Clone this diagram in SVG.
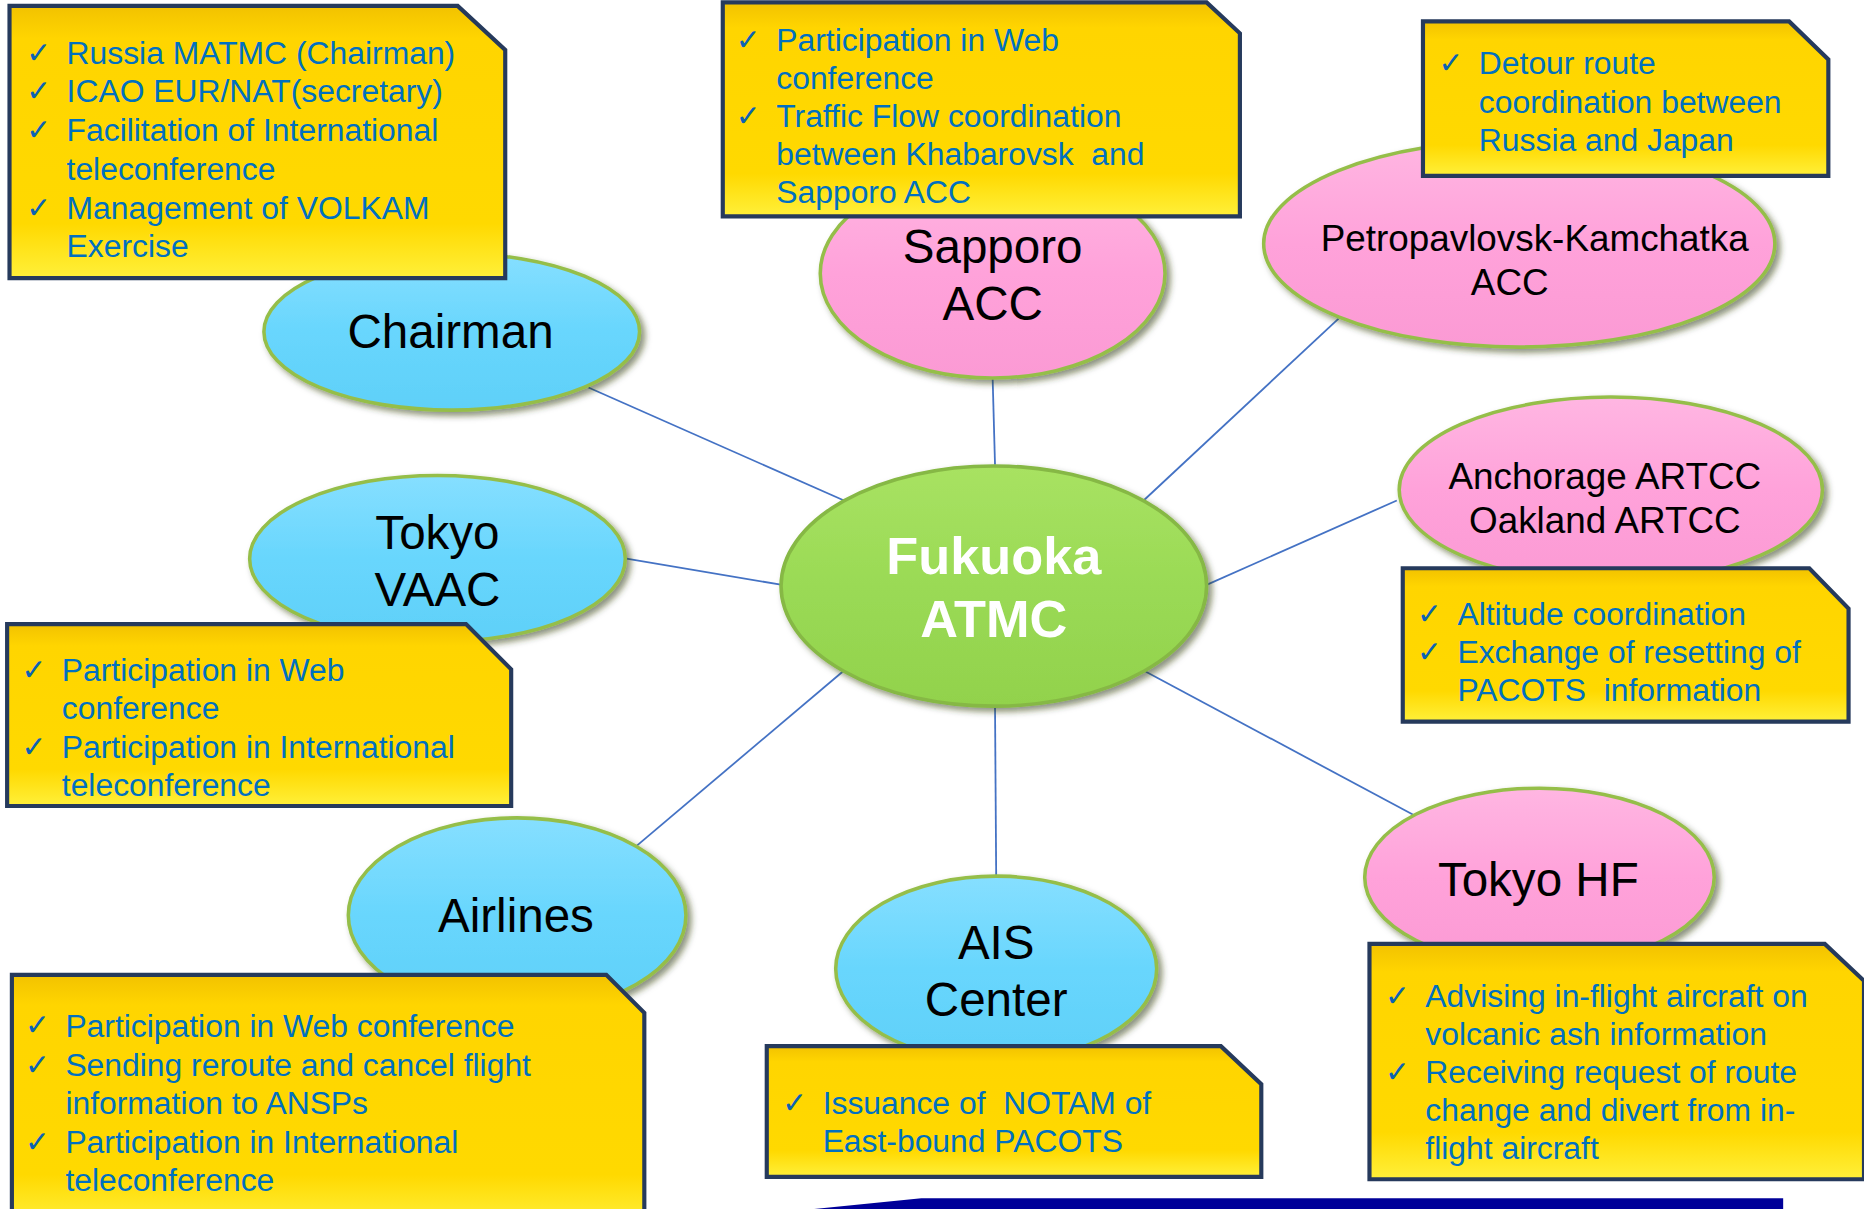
<svg xmlns="http://www.w3.org/2000/svg" width="1864" height="1209" viewBox="0 0 1864 1209">
<defs>
<linearGradient id="gBlue" x1="0" y1="0" x2="0" y2="1">
<stop offset="0" stop-color="#86DFFF"/><stop offset="0.5" stop-color="#68D6FD"/><stop offset="1" stop-color="#5FD0F8"/>
</linearGradient>
<linearGradient id="gPink" x1="0" y1="0" x2="0" y2="1">
<stop offset="0" stop-color="#FFB6E2"/><stop offset="0.5" stop-color="#FFA2DA"/><stop offset="1" stop-color="#FB9AD4"/>
</linearGradient>
<linearGradient id="gGreen" x1="0" y1="0" x2="0" y2="1">
<stop offset="0" stop-color="#A8E262"/><stop offset="0.5" stop-color="#9ADA55"/><stop offset="1" stop-color="#92D24C"/>
</linearGradient>
<linearGradient id="gBox" x1="0" y1="0" x2="0" y2="1">
<stop offset="0" stop-color="#F2C200"/><stop offset="0.12" stop-color="#FFD500"/><stop offset="0.8" stop-color="#FFD900"/><stop offset="1" stop-color="#FFF03A"/>
</linearGradient>
<filter id="sh" x="-10%" y="-10%" width="125%" height="130%">
<feGaussianBlur in="SourceAlpha" stdDeviation="2.5"/>
<feOffset dx="3" dy="3" result="b"/>
<feFlood flood-color="#2E3A10" flood-opacity="0.55"/>
<feComposite in2="b" operator="in"/>
<feMerge><feMergeNode/><feMergeNode in="SourceGraphic"/></feMerge>
</filter>
</defs>
<style>
.con{stroke:#4472C4;stroke-width:1.5;fill:none}
.eb{fill:url(#gBlue);stroke:#95BE4A;stroke-width:3}
.ep{fill:url(#gPink);stroke:#95BE4A;stroke-width:3}
.eg{fill:url(#gGreen);stroke:#86B844;stroke-width:3}
.lbl{font-family:"Liberation Sans",Arial,sans-serif;font-size:40px;fill:#000;text-anchor:middle}
.lbs{font-family:"Liberation Sans",Arial,sans-serif;font-size:31px;fill:#000;text-anchor:middle}
.lbw{font-family:"Liberation Sans",Arial,sans-serif;font-size:44px;font-weight:bold;fill:#fff;text-anchor:middle}
.box{fill:url(#gBox);stroke:#263A5C;stroke-width:3.5}
.bt{font-family:"Liberation Sans",Arial,sans-serif;font-size:26.8px;fill:#0070C0;white-space:pre}
.ck{font-family:"DejaVu Sans",sans-serif;font-size:25px;fill:#0B62B4}
</style>
<g transform="scale(1.18878)">
<g id="connectors">
<line class="con" x1="495" y1="326" x2="710" y2="421"/>
<line class="con" x1="835" y1="318" x2="837" y2="391"/>
<line class="con" x1="1126" y1="268" x2="962" y2="421"/>
<line class="con" x1="1175" y1="421" x2="1015" y2="492"/>
<line class="con" x1="527" y1="470" x2="658" y2="492"/>
<line class="con" x1="535" y1="712" x2="710" y2="564"/>
<line class="con" x1="838" y1="737" x2="837" y2="593"/>
<line class="con" x1="1190" y1="686" x2="962" y2="564"/>
</g>

<g id="fukuoka">
<ellipse class="eg" filter="url(#sh)" cx="836" cy="493" rx="179" ry="101"/>
<text class="lbw" x="836" y="483">Fukuoka</text>
<text class="lbw" x="836" y="536">ATMC</text>
</g>

<g id="chairman">
<ellipse class="eb" filter="url(#sh)" cx="380" cy="279" rx="158" ry="66"/>
<text class="lbl" x="379" y="293">Chairman</text>
<path class="box" d="M8,5 L385,5 L425,42 L425,234 L8,234 Z"/>
<text class="ck" x="22" y="53">✓</text><text class="bt" x="56" y="54">Russia MATMC (Chairman)</text>
<text class="ck" x="22" y="85">✓</text><text class="bt" x="56" y="86">ICAO EUR/NAT(secretary)</text>
<text class="ck" x="22" y="118">✓</text><text class="bt" x="56" y="119">Facilitation of International</text>
<text class="bt" x="56" y="151">teleconference</text>
<text class="ck" x="22" y="183">✓</text><text class="bt" x="56" y="184">Management of VOLKAM</text>
<text class="bt" x="56" y="216">Exercise</text>
</g>

<g id="sapporo">
<ellipse class="ep" filter="url(#sh)" cx="835" cy="230" rx="145" ry="88"/>
<text class="lbl" x="835" y="221">Sapporo</text>
<text class="lbl" x="835" y="269">ACC</text>
<path class="box" d="M608,2 L1015,2 L1043,28 L1043,182 L608,182 Z"/>
<text class="ck" x="619" y="42">✓</text><text class="bt" x="653" y="43">Participation in Web</text>
<text class="bt" x="653" y="75">conference</text>
<text class="ck" x="619" y="106">✓</text><text class="bt" x="653" y="107">Traffic Flow coordination</text>
<text class="bt" x="653" y="139">between Khabarovsk  and</text>
<text class="bt" x="653" y="171">Sapporo ACC</text>
</g>

<g id="petropavlovsk">
<ellipse class="ep" filter="url(#sh)" cx="1278" cy="205" rx="215" ry="87"/>
<text class="lbs" x="1291" y="211">Petropavlovsk-Kamchatka</text>
<text class="lbs" x="1270" y="248">ACC</text>
<path class="box" d="M1197,18 L1505,18 L1538,50 L1538,148 L1197,148 Z"/>
<text class="ck" x="1210" y="61">✓</text><text class="bt" x="1244" y="62">Detour route</text>
<text class="bt" x="1244" y="95">coordination between</text>
<text class="bt" x="1244" y="127">Russia and Japan</text>
</g>

<g id="anchorage">
<ellipse class="ep" filter="url(#sh)" cx="1355" cy="412" rx="178" ry="78"/>
<text class="lbs" x="1350" y="411">Anchorage ARTCC</text>
<text class="lbs" x="1350" y="448">Oakland ARTCC</text>
<path class="box" d="M1180,478 L1522,478 L1555,512 L1555,607 L1180,607 Z"/>
<text class="ck" x="1192" y="525">✓</text><text class="bt" x="1226" y="526">Altitude coordination</text>
<text class="ck" x="1192" y="557">✓</text><text class="bt" x="1226" y="558">Exchange of resetting of</text>
<text class="bt" x="1226" y="590">PACOTS  information</text>
</g>

<g id="vaac">
<ellipse class="eb" filter="url(#sh)" cx="368" cy="470" rx="158" ry="70"/>
<text class="lbl" x="368" y="462">Tokyo</text>
<text class="lbl" x="368" y="510">VAAC</text>
<path class="box" d="M6,525 L392,525 L430,563 L430,678 L6,678 Z"/>
<text class="ck" x="18" y="572">✓</text><text class="bt" x="52" y="573">Participation in Web</text>
<text class="bt" x="52" y="605">conference</text>
<text class="ck" x="18" y="637">✓</text><text class="bt" x="52" y="638">Participation in International</text>
<text class="bt" x="52" y="670">teleconference</text>
</g>

<g id="airlines">
<ellipse class="eb" filter="url(#sh)" cx="435" cy="770" rx="142" ry="82"/>
<text class="lbl" x="434" y="784">Airlines</text>
<path class="box" d="M10,820 L510,820 L542,852 L542,1030 L10,1030 Z"/>
<text class="ck" x="21" y="871">✓</text><text class="bt" x="55" y="872">Participation in Web conference</text>
<text class="ck" x="21" y="904">✓</text><text class="bt" x="55" y="905">Sending reroute and cancel flight</text>
<text class="bt" x="55" y="937">information to ANSPs</text>
<text class="ck" x="21" y="969">✓</text><text class="bt" x="55" y="970">Participation in International</text>
<text class="bt" x="55" y="1002">teleconference</text>
</g>

<g id="ais">
<ellipse class="eb" filter="url(#sh)" cx="838" cy="815" rx="135" ry="78"/>
<text class="lbl" x="838" y="807">AIS</text>
<text class="lbl" x="838" y="855">Center</text>
<path class="box" d="M645,880 L1027,880 L1061,912 L1061,990 L645,990 Z"/>
<text class="ck" x="658" y="936">✓</text><text class="bt" x="692" y="937">Issuance of  NOTAM of</text>
<text class="bt" x="692" y="969">East-bound PACOTS</text>
</g>

<g id="tokyohf">
<ellipse class="ep" filter="url(#sh)" cx="1295" cy="738" rx="147" ry="75"/>
<text class="lbl" x="1294" y="754">Tokyo HF</text>
<path class="box" d="M1152,794 L1535,794 L1568,825 L1568,992 L1152,992 Z"/>
<text class="ck" x="1165" y="846">✓</text><text class="bt" x="1199" y="847">Advising in-flight aircraft on</text>
<text class="bt" x="1199" y="879">volcanic ash information</text>
<text class="ck" x="1165" y="910">✓</text><text class="bt" x="1199" y="911">Receiving request of route</text>
<text class="bt" x="1199" y="943">change and divert from in-</text>
<text class="bt" x="1199" y="975">flight aircraft</text>
</g>

<path d="M675,1018 L775,1008 L1500,1008 L1500,1018 Z" fill="#000099"/>
</g>
</svg>
